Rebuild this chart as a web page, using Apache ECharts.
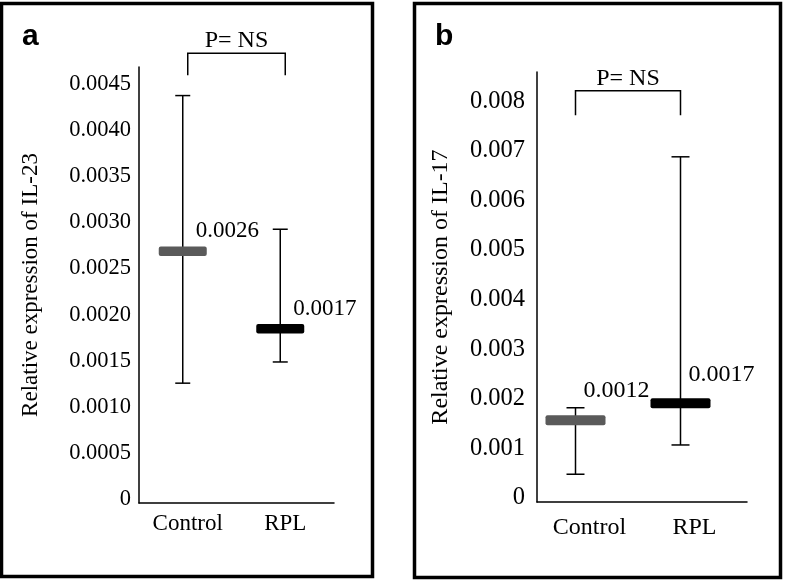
<!DOCTYPE html>
<html>
<head>
<meta charset="utf-8">
<script src="https://cdn.jsdelivr.net/npm/echarts@6/dist/echarts.min.js"></script>
<style>
html, body { margin: 0; padding: 0; background: #fff; }
#chart { width: 785px; height: 580px; }
</style>
</head>
<body>
<div id="chart"></div>
<script>
const groups = ['Control', 'RPL']
const pLabel = 'P= NS'

// panel a : IL-23
const il23Mean = [0.00273, 0.00189]
const il23Low = [0.00130, 0.00153]
const il23High = [0.00442, 0.00297]
const il23Labels = ['0.0026', '0.0017']
const il23Bracket = [0.00488, 0.00464]   // bar top, leg end
const il23Ticks = ['0', '0.0005', '0.0010', '0.0015', '0.0020', '0.0025', '0.0030', '0.0035', '0.0040', '0.0045']

// panel b : IL-17
const il17Mean = [0.00165, 0.00199]
const il17Low = [0.00056, 0.00115]
const il17High = [0.00190, 0.00696]
const il17Labels = ['0.0012', '0.0017']
const il17Bracket = [0.00829, 0.00780]
const il17Ticks = ['0', '0.001', '0.002', '0.003', '0.004', '0.005', '0.006', '0.007', '0.008']

const serif = '"Liberation Serif", "Times New Roman", serif'
const barColors = ['#5a5a5a', '#000000']

const panels = [
  { mean: il23Mean, low: il23Low, high: il23High, labels: il23Labels, bracket: il23Bracket,
    ticks: il23Ticks, step: 0.0005, max: 0.00473, name: 'Relative expression of IL-23',
    font: 23, tickFont: 22.5, nameGap: 97, labelMargin: 8, catMargin: 9,
    markShift: -5, bracketShift: 0, labelDx: 13, labelDy: -20, barW: 48, barH: 9.5, cap: 15 },
  { mean: il17Mean, low: il17Low, high: il17High, labels: il17Labels, bracket: il17Bracket,
    ticks: il17Ticks, step: 0.001, max: 0.00867, name: 'Relative expression of IL-17',
    font: 24, tickFont: 24.5, nameGap: 84, labelMargin: 12, catMargin: 14,
    markShift: -14, bracketShift: -14, labelDx: 8, labelDy: -29, barW: 60, barH: 10, cap: 18 }
]

const chart = echarts.init(document.getElementById('chart'))

const series = []
panels.forEach((p, gi) => {
  series.push({
    type: 'custom',
    xAxisIndex: gi,
    yAxisIndex: gi,
    data: groups.map((g, i) => [i, p.mean[i], p.low[i], p.high[i]]),
    renderItem: (params, api) => {
      const i = api.value(0)
      const x = api.coord([i, 0])[0] + p.markShift
      const yM = api.coord([i, api.value(1)])[1]
      const yL = api.coord([i, api.value(2)])[1]
      const yH = api.coord([i, api.value(3)])[1]
      const c = p.cap / 2
      const ln = { stroke: '#000', lineWidth: 1.5 }
      return {
        type: 'group',
        children: [
          { type: 'line', shape: { x1: x, y1: yL, x2: x, y2: yH }, style: ln },
          { type: 'line', shape: { x1: x - c, y1: yH, x2: x + c, y2: yH }, style: ln },
          { type: 'line', shape: { x1: x - c, y1: yL, x2: x + c, y2: yL }, style: ln },
          { type: 'rect', shape: { x: x - p.barW / 2, y: yM - p.barH / 2, width: p.barW, height: p.barH, r: 2 },
            style: { fill: barColors[i] } },
          { type: 'text', style: { text: p.labels[i], x: x + p.labelDx, y: yM + p.labelDy,
            font: p.font + 'px ' + serif, fill: '#000', align: 'left', verticalAlign: 'middle' } }
        ]
      }
    }
  })
  // significance bracket
  series.push({
    type: 'custom',
    xAxisIndex: gi,
    yAxisIndex: gi,
    data: [[0, p.bracket[0], p.bracket[1]]],
    renderItem: (params, api) => {
      const x1 = api.coord([0, 0])[0] + p.bracketShift
      const x2 = api.coord([1, 0])[0] + p.bracketShift
      const yT = api.coord([0, api.value(1)])[1]
      const yB = api.coord([0, api.value(2)])[1]
      const ln = { stroke: '#000', lineWidth: 1.5, fill: null }
      return {
        type: 'group',
        children: [
          { type: 'polyline', shape: { points: [[x1, yB], [x1, yT], [x2, yT], [x2, yB]] }, style: ln },
          { type: 'text', style: { text: pLabel, x: (x1 + x2) / 2, y: yT - 12,
            font: '24px ' + serif, fill: '#000', align: 'center', verticalAlign: 'middle' } }
        ]
      }
    }
  })
})

const option = {
  animation: false,
  graphic: [
    { type: 'rect', shape: { x: 1.5, y: 3.5, width: 371, height: 573 },
      style: { fill: null, stroke: '#000', lineWidth: 3.5 } },
    { type: 'rect', shape: { x: 414.5, y: 3.5, width: 366, height: 574 },
      style: { fill: null, stroke: '#000', lineWidth: 3.5 } },
    { type: 'text', x: 22, y: 37, style: { text: 'a', font: 'bold 30px "Liberation Sans", Arial, sans-serif',
      fill: '#000', verticalAlign: 'middle' } },
    { type: 'text', x: 435, y: 37, style: { text: 'b', font: 'bold 30px "Liberation Sans", Arial, sans-serif',
      fill: '#000', verticalAlign: 'middle' } }
  ],
  grid: [
    { left: 139, top: 67, width: 195, height: 436 },
    { left: 537, top: 72, width: 210, height: 430 }
  ],
  xAxis: panels.map((p, gi) => ({
    type: 'category',
    gridIndex: gi,
    data: groups,
    axisLine: { lineStyle: { color: '#000', width: 1.5 } },
    axisTick: { show: false },
    axisLabel: { color: '#000', fontFamily: serif, fontSize: p.font, margin: p.catMargin }
  })),
  yAxis: panels.map((p, gi) => ({
    type: 'value',
    gridIndex: gi,
    min: 0,
    max: p.max,
    interval: p.step,
    name: p.name,
    nameLocation: 'middle',
    nameGap: p.nameGap,
    nameTextStyle: { color: '#000', fontFamily: serif, fontSize: p.font },
    axisLine: { show: true, lineStyle: { color: '#000', width: 1.5 } },
    axisTick: { show: false },
    splitLine: { show: false },
    axisLabel: {
      color: '#000', fontFamily: serif, fontSize: p.tickFont, margin: p.labelMargin,
      showMaxLabel: false, verticalAlign: 'bottom', lineHeight: 8,
      formatter: v => {
        const k = Math.round(v / p.step)
        return Math.abs(v - k * p.step) < 1e-9 ? (p.ticks[k] || '') : ''
      }
    }
  })),
  series
}

chart.setOption(option)
</script>
</body>
</html>
